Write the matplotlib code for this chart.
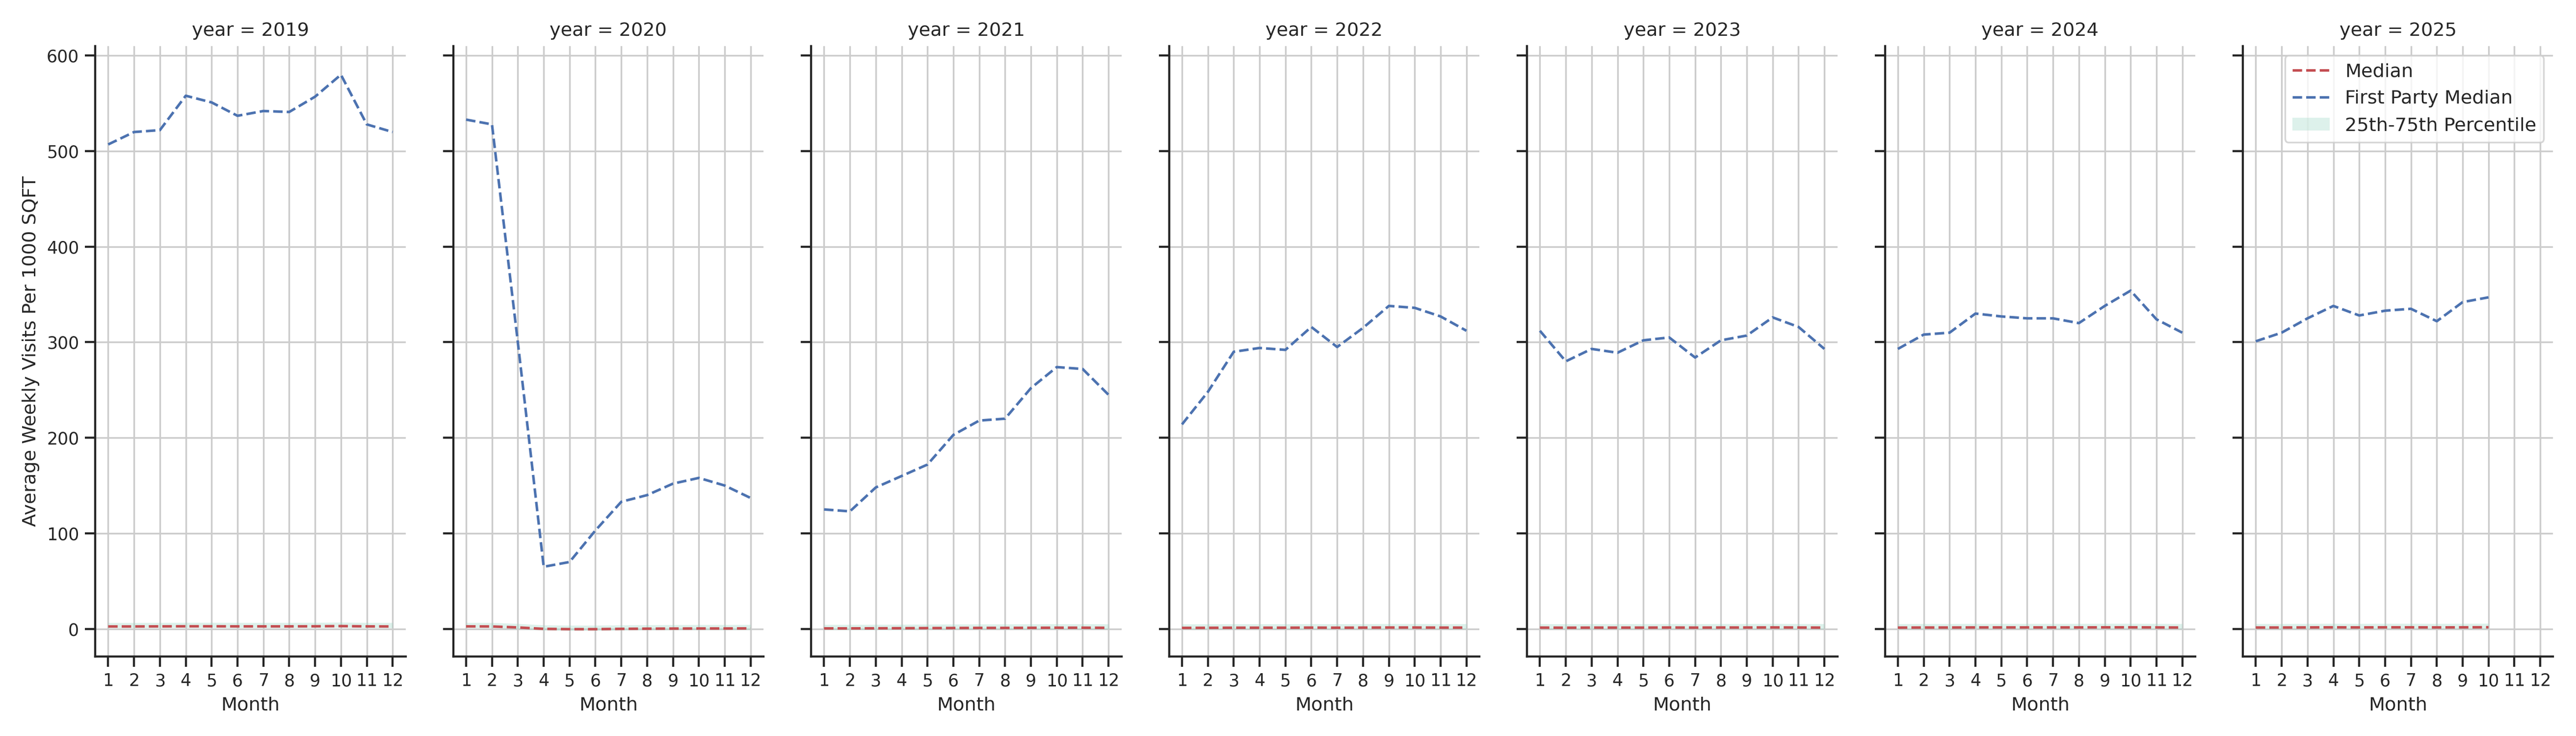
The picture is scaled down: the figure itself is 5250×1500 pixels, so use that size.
import matplotlib
matplotlib.use("Agg")
import matplotlib.pyplot as plt
import seaborn as sns
import numpy as np

sns.set_theme(style="ticks")
plt.rcParams['font.family'] = ['DejaVu Sans']

years = [2019, 2020, 2021, 2022, 2023, 2024, 2025]
fp = {
    2019: [507,520,522,558,551,537,542,541,557,580,528,520],
    2020: [533,528,300,65,70,103,133,140,152,158,150,137],
    2021: [125,123,148,160,172,203,218,220,252,274,272,245],
    2022: [214,248,290,294,292,316,295,315,338,336,327,312],
    2023: [312,280,293,289,302,305,284,302,307,326,316,293],
    2024: [293,308,310,330,327,325,325,320,338,354,324,310],
    2025: [301,310,325,338,328,333,335,322,342,347],
}
med = {
    2019: [2.5,2.5,2.6,2.7,2.7,2.6,2.6,2.6,2.7,2.9,2.6,2.5],
    2020: [2.6,2.5,1.5,0.0,-0.3,-0.3,0.0,0.2,0.3,0.4,0.4,0.5],
    2021: [0.5,0.5,0.6,0.7,0.8,0.9,1.0,1.0,1.1,1.2,1.2,1.1],
    2022: [1.0,1.1,1.2,1.2,1.2,1.3,1.2,1.3,1.4,1.4,1.3,1.3],
    2023: [1.3,1.2,1.3,1.3,1.3,1.4,1.3,1.4,1.4,1.5,1.4,1.3],
    2024: [1.3,1.4,1.4,1.5,1.5,1.5,1.5,1.5,1.6,1.6,1.5,1.4],
    2025: [1.4,1.4,1.5,1.6,1.5,1.6,1.6,1.5,1.6,1.7],
}
q25 = {y: [v - 1.5 for v in med[y]] for y in years}
q75 = {y: [v + 4.0 for v in med[y]] for y in years}

fig, axes = plt.subplots(1, 7, figsize=(21, 6), dpi=250, sharey=True)
for ax, y in zip(axes, years):
    m = np.arange(1, len(fp[y]) + 1)
    ax.fill_between(m, q25[y], q75[y], color="#9fd8c6", alpha=0.35, lw=0,
                    label="25th-75th Percentile")
    ax.plot(m, med[y], "--", color="#c44e52", lw=1.5, label="Median")
    ax.plot(m, fp[y], "--", color="#4c72b0", lw=1.5, label="First Party Median")
    ax.set_xticks(range(1, 13))
    ax.set_xlim(0.5, 12.5)
    ax.set_ylim(-29, 610)
    ax.grid(True, color="#cccccc", lw=1)
    ax.set_axisbelow(True)
    ax.set_title(f"year = {y}", fontsize=11)
    ax.set_xlabel("Month", fontsize=11)
    ax.tick_params(labelsize=10)
    sns.despine(ax=ax)
axes[0].set_ylabel("Average Weekly Visits Per 1000 SQFT", fontsize=11)
h, l = axes[-1].get_legend_handles_labels()
order = [1, 2, 0]
axes[-1].legend([h[i] for i in order], [l[i] for i in order], loc="upper right", fontsize=11)
fig.tight_layout()
fig.savefig("out.png")
